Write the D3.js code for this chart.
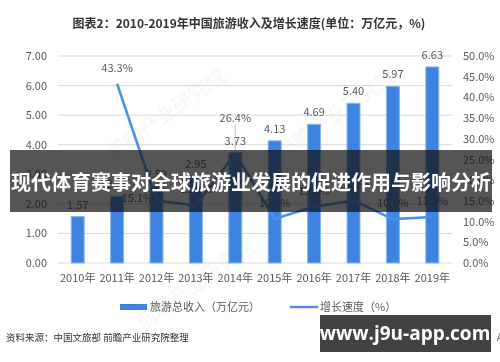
<!DOCTYPE html>
<html><head><meta charset="utf-8">
<script src="https://cdn.jsdelivr.net/npm/d3@7"></script>
<style>body{margin:0;background:#fff}svg{display:block}</style>
</head><body>
<script>
const years = ["2010年","2011年","2012年","2013年","2014年","2015年","2016年","2017年","2018年","2019年"];
const revenue = [1.57,2.25,2.59,2.95,3.73,4.13,4.69,5.40,5.97,6.63];
const growth = [null,43.3,15.1,13.9,26.4,10.7,13.6,15.1,10.6,11.1];
const leftTicks = [0,1,2,3,4,5,6,7];
const rightTicks = [0,5,10,15,20,25,30,35,40,45,50];
const title = "图表2：2010-2019年中国旅游收入及增长速度(单位：万亿元，%)";
const legendBar = "旅游总收入（万亿元）";
const legendLine = "增长速度（%）";
const source = "资料来源：中国文旅部 前瞻产业研究院整理";
const banner = "现代体育赛事对全球旅游业发展的促进作用与影响分析";
const site = "www.j9u-app.com";

const W=500,H=362;
const FONT = "'Noto Sans CJK SC','Noto Sans',sans-serif";
const svg = d3.select("body").append("svg").attr("width",W).attr("height",H).style("font-family",FONT);
svg.append("rect").attr("width",W).attr("height",H).attr("fill","#fff");

const m={l:58,r:452,t:56,b:263};
const x = d3.scaleBand().domain(years).range([m.l,m.r]).paddingInner(0.67).paddingOuter(0.335);
const y = d3.scaleLinear().domain([0,7]).range([m.b,m.t]);
const y2 = d3.scaleLinear().domain([0,50]).range([m.b,m.t]);
const cx = d => x(d)+x.bandwidth()/2;

// faint watermarks
const wm = [[170,120],[340,120],[200,290]];
const wmg = svg.append("g").attr("fill","#000").attr("opacity",0.03).style("font-size","20px").style("font-weight","bold");
wm.forEach(([a,b])=>wmg.append("text").attr("x",a).attr("y",b).attr("text-anchor","middle").attr("transform",`rotate(-35,${a},${b})`).text("前瞻产业研究院"));

svg.append("text").attr("x",249).attr("y",28).attr("text-anchor","middle").attr("fill","#333").style("font-size","12px").style("font-weight","bold").text(title);

// grid
svg.append("g").selectAll("line").data(leftTicks).join("line")
  .attr("x1",m.l).attr("x2",m.r).attr("y1",d=>y(d)).attr("y2",d=>y(d)).attr("stroke","#d9d9d9").attr("stroke-width",1);

// left axis
const la = svg.append("g").attr("transform",`translate(${m.l},0)`).call(d3.axisLeft(y).tickValues(leftTicks).tickFormat(d3.format(".2f")).tickSize(0).tickPadding(11));
la.select(".domain").remove();
la.selectAll("text").attr("fill","#595959").style("font-size","11px").style("font-family",FONT);
// right axis
const ra = svg.append("g").attr("transform",`translate(${m.r},0)`).call(d3.axisRight(y2).tickValues(rightTicks).tickFormat(d=>d.toFixed(1)+"%").tickSize(0).tickPadding(11));
ra.select(".domain").remove();
ra.selectAll("text").attr("fill","#595959").style("font-size","11px").style("font-family",FONT);
// x axis
const xa = svg.append("g").attr("transform",`translate(0,${m.b})`).call(d3.axisBottom(x).tickSize(0).tickPadding(11));
xa.select(".domain").remove();
xa.selectAll("text").attr("fill","#595959").style("font-size","11px").style("font-family",FONT);

// bars
svg.append("g").selectAll("rect").data(years).join("rect")
  .attr("x",d=>x(d)).attr("width",x.bandwidth())
  .attr("y",(d,i)=>y(revenue[i])).attr("height",(d,i)=>y(0)-y(revenue[i]))
  .attr("fill","#3f83e0").attr("stroke","#8db6ef").attr("stroke-width",1);
svg.append("g").selectAll("text").data(years).join("text")
  .attr("x",d=>cx(d)).attr("y",(d,i)=>y(revenue[i])-8).attr("text-anchor","middle")
  .attr("fill","#595959").style("font-size","11px").text((d,i)=>revenue[i].toFixed(2));

// line
const pts = years.map((d,i)=>[d,growth[i]]).filter(p=>p[1]!=null);
svg.append("path").datum(pts).attr("fill","none").attr("stroke","#4a90e8").attr("stroke-width",2.5)
  .attr("d",d3.line().x(p=>cx(p[0])).y(p=>y2(p[1])));
// leader line for 2014
svg.append("line").attr("x1",cx(years[4])).attr("x2",cx(years[4])).attr("y1",y2(growth[4])-30).attr("y2",y2(growth[4])-2).attr("stroke","#bfbfbf").attr("stroke-width",1);
const off = {1:[0,-12],2:[-19,2],3:[0,-12],4:[0,-32],5:[0,-12],6:[0,-12],7:[0,-12],8:[0,-12],9:[0,-12]};
svg.append("g").selectAll("text").data(pts).join("text")
  .attr("x",p=>cx(p[0])+off[years.indexOf(p[0])][0]).attr("y",p=>y2(p[1])+off[years.indexOf(p[0])][1])
  .attr("text-anchor","middle").attr("fill","#595959").style("font-size","11px").text(p=>p[1].toFixed(1)+"%");

// legend
svg.append("rect").attr("x",120).attr("y",304).attr("width",27).attr("height",6).attr("fill","#3f83e0");
svg.append("text").attr("x",150).attr("y",311).attr("fill","#595959").style("font-size","11px").text(legendBar);
svg.append("line").attr("x1",290).attr("x2",318).attr("y1",307).attr("y2",307).attr("stroke","#4a90e8").attr("stroke-width",2.5);
svg.append("text").attr("x",320).attr("y",311).attr("fill","#595959").style("font-size","11px").text(legendLine);

svg.append("text").attr("x",6).attr("y",341).attr("fill","#333").style("font-size","9.5px").text(source);

// banner overlay
svg.append("rect").attr("x",10).attr("y",150).attr("width",482).attr("height",62).attr("fill","rgba(20,20,20,0.72)");
svg.append("text").attr("x",251).attr("y",190).attr("text-anchor","middle").attr("fill","#fff").style("font-size","20px").style("font-weight","bold").text(banner);

// bottom-right box
svg.append("text").attr("x",497).attr("y",341).attr("fill","#555").style("font-size","10px").text("APP");
svg.append("rect").attr("x",320).attr("y",315).attr("width",171).attr("height",37).attr("fill","rgba(50,50,50,0.92)");
svg.append("text").attr("x",405).attr("y",340).attr("text-anchor","middle").attr("fill","#fff").style("font-size","19px").style("font-weight","bold").style("font-family","'Open Sans','DejaVu Sans',sans-serif").text(site);
</script>
</body></html>
